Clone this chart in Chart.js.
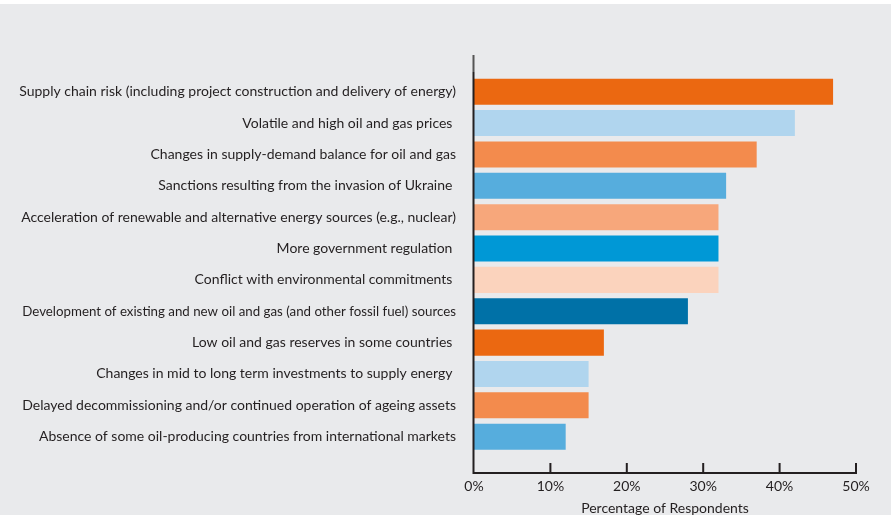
<!DOCTYPE html>
<html>
<head>
<meta charset="utf-8">
<script src="https://cdn.jsdelivr.net/npm/chart.js@4.4.1/dist/chart.umd.min.js"></script>
<style>
  html, body { margin: 0; padding: 0; background: #fff; }
  #wrap { width: 893px; height: 517px; }
</style>
</head>
<body>
<div id="wrap"><canvas id="myChart" width="893" height="517"></canvas></div>
<script>
// survey answers, top to bottom
const categories = [
  'Supply chain risk (including project construction and delivery of energy)',
  'Volatile and high oil and gas prices ',
  'Changes in supply-demand balance for oil and gas',
  'Sanctions resulting from the invasion of Ukraine ',
  'Acceleration of renewable and alternative energy sources (e.g., nuclear)',
  'More government regulation ',
  'Conflict with environmental commitments ',
  'Development of existing and new oil and gas (and other fossil fuel) sources',
  'Low oil and gas reserves in some countries ',
  'Changes in mid to long term investments to supply energy ',
  'Delayed decommissioning and/or continued operation of ageing assets',
  'Absence of some oil-producing countries from international markets'
];
const shares = [47, 42, 37, 33, 32, 32, 32, 28, 17, 15, 15, 12];
const tickValues = [0, 10, 20, 30, 40, 50];
const barColors = ['#eb6811', '#b0d5ee', '#f38b4d', '#56addd', '#f7a77b', '#0098d6',
  '#fbd3bd', '#0071a7', '#eb6811', '#b0d5ee', '#f38b4d', '#56addd'];

const FONT = 'Lato, "Source Sans Pro", sans-serif';
const INK = '#231f20';

// grey card behind everything
const bgPlugin = {
  id: 'bg',
  beforeDraw(chart) {
    const c = chart.ctx;
    c.save();
    c.fillStyle = '#e9eaec';
    c.fillRect(0, 4, 891, 511);
    c.restore();
  }
};

// axis lines sit a bit outside the bar area, so draw them by hand
const axesPlugin = {
  id: 'axes',
  afterDatasetsDraw(chart) {
    const c = chart.ctx;
    const area = chart.chartArea;
    const xs = chart.scales.x;
    const left = area.left - 0.5;
    const base = area.bottom + 20.5;
    c.save();
    c.lineWidth = 2;
    c.strokeStyle = '#555';
    c.beginPath();
    c.moveTo(left, area.top - 21);
    c.lineTo(left, area.top - 4);
    c.stroke();
    c.strokeStyle = INK;
    c.beginPath();
    c.moveTo(left, area.top - 4);
    c.lineTo(left, base + 1);
    c.moveTo(left - 1, base);
    c.lineTo(xs.getPixelForValue(50) + 1, base);
    tickValues.slice(1).forEach(v => {
      const px = xs.getPixelForValue(v);
      c.moveTo(px, base);
      c.lineTo(px, base - 10);
    });
    c.stroke();
    c.restore();
  }
};

new Chart(document.getElementById('myChart').getContext('2d'), {
  type: 'bar',
  data: {
    labels: categories,
    datasets: [{
      data: shares,
      backgroundColor: barColors,
      borderWidth: 0,
      categoryPercentage: 1,
      barPercentage: 0.83
    }]
  },
  options: {
    indexAxis: 'y',
    responsive: false,
    animation: false,
    devicePixelRatio: 1,
    layout: { padding: { top: 76, right: 37, bottom: 0, left: 0 } },
    plugins: {
      legend: { display: false },
      tooltip: { enabled: false }
    },
    scales: {
      x: {
        min: 0,
        max: 50,
        grid: { display: false, drawTicks: false },
        border: { display: false },
        afterBuildTicks(scale) {
          scale.ticks = tickValues.map(v => ({ value: v }));
        },
        // let the layout padding alone decide where 50% lands
        afterFit(scale) {
          scale.paddingLeft = 0;
          scale.paddingRight = 0;
        },
        ticks: {
          padding: 26,
          color: INK,
          font: { family: FONT, size: 14 },
          callback: v => v + '%'
        },
        title: {
          display: true,
          text: 'Percentage of Respondents',
          color: INK,
          padding: { top: -21, bottom: 0 },
          font: { family: FONT, size: 14 }
        }
      },
      y: {
        grid: { display: false, drawTicks: false },
        border: { display: false },
        afterFit(scale) { scale.width = 474; },
        ticks: {
          padding: 18,
          color: INK,
          autoSkip: false,
          // the long fossil fuel label is set a touch tighter in the original
          font: ctx => ({ family: FONT, size: ctx.index === 7 ? 13.3 : 14 })
        }
      }
    }
  },
  plugins: [bgPlugin, axesPlugin]
});
</script>
</body>
</html>
